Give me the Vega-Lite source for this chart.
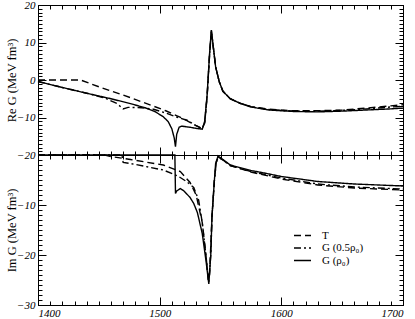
{
  "$schema": "https://vega.github.io/schema/vega-lite/v6.json",
  "background": "white",
  "padding": {"left": 4, "top": -2, "right": 0, "bottom": 0},
  "spacing": 0,
  "bounds": "flush",
  "config": {
    "view": {"stroke": "black", "strokeWidth": 1},
    "font": "Liberation Serif",
    "axis": {
      "grid": false,
      "domain": false,
      "tickColor": "black",
      "tickWidth": 1,
      "labelFont": "Liberation Serif",
      "labelFontStyle": "italic",
      "labelFontSize": 11,
      "labelColor": "black",
      "titleFont": "Liberation Serif",
      "titleFontWeight": "normal",
      "titleFontSize": 12.5,
      "titleColor": "black",
      "format": "d"
    },
    "legend": {
      "labelFont": "Liberation Serif",
      "labelFontSize": 11,
      "labelColor": "black"
    }
  },
  "resolve": {"scale": {"strokeDash": "independent"}, "legend": {"strokeDash": "independent"}},
  "datasets": {
    "re": [
      {"x": 1400, "y": 0, "s": "T"}, {"x": 1435, "y": 0, "s": "T"}, {"x": 1450, "y": -1.8, "s": "T"}, {"x": 1476, "y": -4.7, "s": "T"}, {"x": 1505, "y": -8.2, "s": "T"}, {"x": 1520, "y": -10.4, "s": "T"}, {"x": 1530, "y": -12.2, "s": "T"}, {"x": 1535, "y": -13, "s": "T"}, {"x": 1537, "y": -11.5, "s": "T"}, {"x": 1539, "y": -4.5, "s": "T"}, {"x": 1541, "y": 6.5, "s": "T"}, {"x": 1542.5, "y": 13, "s": "T"}, {"x": 1544, "y": 9, "s": "T"}, {"x": 1546, "y": 3.5, "s": "T"}, {"x": 1549, "y": -0.5, "s": "T"}, {"x": 1552, "y": -3, "s": "T"}, {"x": 1558, "y": -5, "s": "T"}, {"x": 1566, "y": -6.2, "s": "T"}, {"x": 1575, "y": -7.1, "s": "T"}, {"x": 1590, "y": -7.8, "s": "T"}, {"x": 1610, "y": -8.2, "s": "T"}, {"x": 1630, "y": -8.2, "s": "T"}, {"x": 1650, "y": -8, "s": "T"}, {"x": 1670, "y": -7.5, "s": "T"}, {"x": 1690, "y": -6.9, "s": "T"}, {"x": 1700, "y": -6.6, "s": "T"},
      {"x": 1400, "y": -0.4, "s": "G (0.5ρ₀)"}, {"x": 1420, "y": -2.0, "s": "G (0.5ρ₀)"}, {"x": 1441, "y": -3.6, "s": "G (0.5ρ₀)"}, {"x": 1455, "y": -4.8, "s": "G (0.5ρ₀)"}, {"x": 1465, "y": -6.3, "s": "G (0.5ρ₀)"}, {"x": 1470, "y": -7.7, "s": "G (0.5ρ₀)"}, {"x": 1474, "y": -7.3, "s": "G (0.5ρ₀)"}, {"x": 1485, "y": -7.4, "s": "G (0.5ρ₀)"}, {"x": 1495, "y": -7.8, "s": "G (0.5ρ₀)"}, {"x": 1505, "y": -8.8, "s": "G (0.5ρ₀)"}, {"x": 1515, "y": -10, "s": "G (0.5ρ₀)"}, {"x": 1523, "y": -10.8, "s": "G (0.5ρ₀)"}, {"x": 1530, "y": -12.2, "s": "G (0.5ρ₀)"}, {"x": 1535, "y": -13, "s": "G (0.5ρ₀)"}, {"x": 1537, "y": -11.3, "s": "G (0.5ρ₀)"}, {"x": 1539, "y": -4.3, "s": "G (0.5ρ₀)"}, {"x": 1541, "y": 6.7, "s": "G (0.5ρ₀)"}, {"x": 1542.5, "y": 13.2, "s": "G (0.5ρ₀)"}, {"x": 1544, "y": 9, "s": "G (0.5ρ₀)"}, {"x": 1546, "y": 3.5, "s": "G (0.5ρ₀)"}, {"x": 1549, "y": -0.5, "s": "G (0.5ρ₀)"}, {"x": 1552, "y": -3, "s": "G (0.5ρ₀)"}, {"x": 1558, "y": -5, "s": "G (0.5ρ₀)"}, {"x": 1566, "y": -6.2, "s": "G (0.5ρ₀)"}, {"x": 1575, "y": -7.1, "s": "G (0.5ρ₀)"}, {"x": 1590, "y": -7.9, "s": "G (0.5ρ₀)"}, {"x": 1610, "y": -8.3, "s": "G (0.5ρ₀)"}, {"x": 1630, "y": -8.3, "s": "G (0.5ρ₀)"}, {"x": 1650, "y": -8.1, "s": "G (0.5ρ₀)"}, {"x": 1670, "y": -7.7, "s": "G (0.5ρ₀)"}, {"x": 1690, "y": -7.2, "s": "G (0.5ρ₀)"}, {"x": 1700, "y": -7, "s": "G (0.5ρ₀)"},
      {"x": 1400, "y": -0.4, "s": "G (ρ₀)"}, {"x": 1420, "y": -2.0, "s": "G (ρ₀)"}, {"x": 1441, "y": -3.6, "s": "G (ρ₀)"}, {"x": 1460, "y": -5.0, "s": "G (ρ₀)"}, {"x": 1476, "y": -6.3, "s": "G (ρ₀)"}, {"x": 1488, "y": -7.4, "s": "G (ρ₀)"}, {"x": 1496, "y": -8.4, "s": "G (ρ₀)"}, {"x": 1503, "y": -9.8, "s": "G (ρ₀)"}, {"x": 1507, "y": -11.1, "s": "G (ρ₀)"}, {"x": 1510, "y": -13, "s": "G (ρ₀)"}, {"x": 1512, "y": -15.5, "s": "G (ρ₀)"}, {"x": 1513, "y": -17.8, "s": "G (ρ₀)"}, {"x": 1514, "y": -14.5, "s": "G (ρ₀)"}, {"x": 1516, "y": -12.6, "s": "G (ρ₀)"}, {"x": 1518, "y": -12.3, "s": "G (ρ₀)"}, {"x": 1525, "y": -12.6, "s": "G (ρ₀)"}, {"x": 1530, "y": -12.9, "s": "G (ρ₀)"}, {"x": 1535, "y": -13.1, "s": "G (ρ₀)"}, {"x": 1537, "y": -11, "s": "G (ρ₀)"}, {"x": 1539, "y": -4, "s": "G (ρ₀)"}, {"x": 1541, "y": 7, "s": "G (ρ₀)"}, {"x": 1542.5, "y": 13.3, "s": "G (ρ₀)"}, {"x": 1544, "y": 9, "s": "G (ρ₀)"}, {"x": 1546, "y": 3.5, "s": "G (ρ₀)"}, {"x": 1549, "y": -0.5, "s": "G (ρ₀)"}, {"x": 1552, "y": -3, "s": "G (ρ₀)"}, {"x": 1558, "y": -5, "s": "G (ρ₀)"}, {"x": 1566, "y": -6.2, "s": "G (ρ₀)"}, {"x": 1575, "y": -7.2, "s": "G (ρ₀)"}, {"x": 1590, "y": -8, "s": "G (ρ₀)"}, {"x": 1610, "y": -8.4, "s": "G (ρ₀)"}, {"x": 1630, "y": -8.5, "s": "G (ρ₀)"}, {"x": 1650, "y": -8.3, "s": "G (ρ₀)"}, {"x": 1670, "y": -8, "s": "G (ρ₀)"}, {"x": 1690, "y": -7.7, "s": "G (ρ₀)"}, {"x": 1700, "y": -7.5, "s": "G (ρ₀)"}
    ],
    "im": [
      {"x": 1400, "y": 0, "s": "T"}, {"x": 1455, "y": 0, "s": "T"}, {"x": 1460, "y": -0.3, "s": "T"}, {"x": 1476, "y": -0.9, "s": "T"}, {"x": 1503, "y": -2, "s": "T"}, {"x": 1517, "y": -3.3, "s": "T"}, {"x": 1525, "y": -5.5, "s": "T"}, {"x": 1530, "y": -8, "s": "T"}, {"x": 1535, "y": -13.5, "s": "T"}, {"x": 1538, "y": -20, "s": "T"}, {"x": 1540, "y": -25, "s": "T"}, {"x": 1541, "y": -24, "s": "T"}, {"x": 1543, "y": -12.3, "s": "T"}, {"x": 1545, "y": -5, "s": "T"}, {"x": 1546.5, "y": -1.5, "s": "T"}, {"x": 1548, "y": -0.5, "s": "T"}, {"x": 1552, "y": -1, "s": "T"}, {"x": 1558, "y": -2.1, "s": "T"}, {"x": 1575, "y": -3.4, "s": "T"}, {"x": 1600, "y": -4.8, "s": "T"}, {"x": 1630, "y": -6, "s": "T"}, {"x": 1660, "y": -6.6, "s": "T"}, {"x": 1700, "y": -7, "s": "T"},
      {"x": 1400, "y": 0, "s": "G (0.5ρ₀)"}, {"x": 1469, "y": 0, "s": "G (0.5ρ₀)"}, {"x": 1470, "y": -1.5, "s": "G (0.5ρ₀)"}, {"x": 1476, "y": -1.7, "s": "G (0.5ρ₀)"}, {"x": 1503, "y": -3, "s": "G (0.5ρ₀)"}, {"x": 1515, "y": -4.2, "s": "G (0.5ρ₀)"}, {"x": 1522, "y": -5.3, "s": "G (0.5ρ₀)"}, {"x": 1528, "y": -6.5, "s": "G (0.5ρ₀)"}, {"x": 1532, "y": -9, "s": "G (0.5ρ₀)"}, {"x": 1535, "y": -13.5, "s": "G (0.5ρ₀)"}, {"x": 1538, "y": -20, "s": "G (0.5ρ₀)"}, {"x": 1540.3, "y": -25.5, "s": "G (0.5ρ₀)"}, {"x": 1542, "y": -20, "s": "G (0.5ρ₀)"}, {"x": 1543, "y": -12.3, "s": "G (0.5ρ₀)"}, {"x": 1545, "y": -5, "s": "G (0.5ρ₀)"}, {"x": 1546.5, "y": -1.5, "s": "G (0.5ρ₀)"}, {"x": 1548, "y": -0.4, "s": "G (0.5ρ₀)"}, {"x": 1552, "y": -1, "s": "G (0.5ρ₀)"}, {"x": 1558, "y": -2.1, "s": "G (0.5ρ₀)"}, {"x": 1575, "y": -3.3, "s": "G (0.5ρ₀)"}, {"x": 1600, "y": -4.6, "s": "G (0.5ρ₀)"}, {"x": 1630, "y": -5.8, "s": "G (0.5ρ₀)"}, {"x": 1660, "y": -6.4, "s": "G (0.5ρ₀)"}, {"x": 1700, "y": -6.8, "s": "G (0.5ρ₀)"},
      {"x": 1400, "y": 0, "s": "G (ρ₀)"}, {"x": 1512.5, "y": 0, "s": "G (ρ₀)"}, {"x": 1513, "y": -7.7, "s": "G (ρ₀)"}, {"x": 1514, "y": -7.2, "s": "G (ρ₀)"}, {"x": 1517, "y": -6.7, "s": "G (ρ₀)"}, {"x": 1520, "y": -7.2, "s": "G (ρ₀)"}, {"x": 1525, "y": -8.5, "s": "G (ρ₀)"}, {"x": 1528, "y": -9.7, "s": "G (ρ₀)"}, {"x": 1531, "y": -11.5, "s": "G (ρ₀)"}, {"x": 1535, "y": -15.7, "s": "G (ρ₀)"}, {"x": 1538, "y": -21, "s": "G (ρ₀)"}, {"x": 1540.4, "y": -25.8, "s": "G (ρ₀)"}, {"x": 1542, "y": -20, "s": "G (ρ₀)"}, {"x": 1543, "y": -12.3, "s": "G (ρ₀)"}, {"x": 1545, "y": -5, "s": "G (ρ₀)"}, {"x": 1546, "y": -1.7, "s": "G (ρ₀)"}, {"x": 1548, "y": -0.2, "s": "G (ρ₀)"}, {"x": 1552, "y": -0.9, "s": "G (ρ₀)"}, {"x": 1558, "y": -2, "s": "G (ρ₀)"}, {"x": 1575, "y": -3.1, "s": "G (ρ₀)"}, {"x": 1586, "y": -3.6, "s": "G (ρ₀)"}, {"x": 1600, "y": -4.3, "s": "G (ρ₀)"}, {"x": 1630, "y": -5.3, "s": "G (ρ₀)"}, {"x": 1660, "y": -5.8, "s": "G (ρ₀)"}, {"x": 1700, "y": -6.2, "s": "G (ρ₀)"}
    ]
  },
  "vconcat": [
    {
      "width": 365,
      "height": 150,
      "resolve": {"scale": {"x": "independent", "y": "independent"}},
      "layer": [
        {
          "data": {"name": "re"},
          "mark": {"type": "line", "color": "black", "strokeWidth": 1.4},
          "encoding": {
            "x": {"field": "x", "type": "quantitative", "scale": {"domain": [1400, 1700], "nice": false, "zero": false},
              "axis": {"orient": "bottom", "values": [1400, 1500, 1600, 1700], "tickSize": -8, "labels": false, "title": null, "minExtent": 0, "maxExtent": 0}},
            "y": {"field": "y", "type": "quantitative", "scale": {"domain": [-20, 20], "nice": false, "zero": false},
              "axis": {"orient": "left", "values": [-20, -10, 0, 10, 20], "tickSize": -8, "labelPadding": 11, "title": "Re G (MeV fm³)", "titlePadding": 2, "minExtent": 18, "maxExtent": 18}},
            "strokeDash": {"field": "s", "type": "nominal", "sort": ["T", "G (0.5ρ₀)", "G (ρ₀)"],
              "scale": {"domain": ["T", "G (0.5ρ₀)", "G (ρ₀)"], "range": [[7, 4], [7, 3, 2, 3], [1, 0]]}, "legend": null}
          }
        },
        {
          "data": {"name": "re"},
          "mark": {"type": "point", "opacity": 0},
          "encoding": {
            "x": {"field": "x", "type": "quantitative", "scale": {"domain": [1400, 1700], "nice": false, "zero": false},
              "axis": {"orient": "bottom", "values": [1400,1410,1420,1430,1440,1450,1460,1470,1480,1490,1500,1510,1520,1530,1540,1550,1560,1570,1580,1590,1600,1610,1620,1630,1640,1650,1660,1670,1680,1690,1700], "tickSize": -4, "labels": false, "title": null, "minExtent": 0, "maxExtent": 0}},
            "y": {"field": "y", "type": "quantitative", "scale": {"domain": [-20, 20], "nice": false, "zero": false},
              "axis": {"orient": "left", "values": [-20,-19,-18,-17,-16,-15,-14,-13,-12,-11,-10,-9,-8,-7,-6,-5,-4,-3,-2,-1,0,1,2,3,4,5,6,7,8,9,10,11,12,13,14,15,16,17,18,19,20], "tickSize": -4, "labels": false, "title": null, "minExtent": 0, "maxExtent": 0}}
          }
        },
        {
          "data": {"name": "re"},
          "mark": {"type": "point", "opacity": 0},
          "encoding": {
            "x": {"field": "x", "type": "quantitative", "scale": {"domain": [1400, 1700], "nice": false, "zero": false},
              "axis": {"orient": "top", "values": [1400, 1500, 1600, 1700], "tickSize": -8, "labels": false, "title": null, "minExtent": 0, "maxExtent": 0}},
            "y": {"field": "y", "type": "quantitative", "scale": {"domain": [-20, 20], "nice": false, "zero": false},
              "axis": {"orient": "right", "values": [-20, -10, 0, 10, 20], "tickSize": -8, "labels": false, "title": null, "minExtent": 0, "maxExtent": 0}}
          }
        },
        {
          "data": {"name": "re"},
          "mark": {"type": "point", "opacity": 0},
          "encoding": {
            "x": {"field": "x", "type": "quantitative", "scale": {"domain": [1400, 1700], "nice": false, "zero": false},
              "axis": {"orient": "top", "values": [1400,1410,1420,1430,1440,1450,1460,1470,1480,1490,1500,1510,1520,1530,1540,1550,1560,1570,1580,1590,1600,1610,1620,1630,1640,1650,1660,1670,1680,1690,1700], "tickSize": -4, "labels": false, "title": null, "minExtent": 0, "maxExtent": 0}},
            "y": {"field": "y", "type": "quantitative", "scale": {"domain": [-20, 20], "nice": false, "zero": false},
              "axis": {"orient": "right", "values": [-20,-19,-18,-17,-16,-15,-14,-13,-12,-11,-10,-9,-8,-7,-6,-5,-4,-3,-2,-1,0,1,2,3,4,5,6,7,8,9,10,11,12,13,14,15,16,17,18,19,20], "tickSize": -4, "labels": false, "title": null, "minExtent": 0, "maxExtent": 0}}
          }
        }
      ]
    },
    {
      "width": 365,
      "height": 150,
      "resolve": {"scale": {"x": "independent", "y": "independent"}},
      "layer": [
        {
          "data": {"name": "im"},
          "mark": {"type": "line", "color": "black", "strokeWidth": 1.4},
          "encoding": {
            "x": {"field": "x", "type": "quantitative", "scale": {"domain": [1400, 1700], "nice": false, "zero": false},
              "axis": {"orient": "bottom", "values": [1400, 1500, 1600, 1700], "tickSize": -8, "labelPadding": 10, "title": null}},
            "y": {"field": "y", "type": "quantitative", "scale": {"domain": [-30, 0], "nice": false, "zero": false},
              "axis": {"orient": "left", "values": [-30, -20, -10], "tickSize": -8, "labelPadding": 11, "title": "Im G (MeV fm³)", "titlePadding": 2, "minExtent": 18, "maxExtent": 18}},
            "strokeDash": {"field": "s", "type": "nominal", "sort": ["T", "G (0.5ρ₀)", "G (ρ₀)"],
              "scale": {"domain": ["T", "G (0.5ρ₀)", "G (ρ₀)"], "range": [[7, 4], [7, 3, 2, 3], [1, 0]]},
              "legend": {"orient": "none", "legendX": 255, "legendY": 75, "title": null, "symbolType": "stroke", "symbolStrokeColor": "black", "symbolStrokeWidth": 1.4, "symbolSize": 289, "clipHeight": 11, "rowPadding": 0.5, "labelOffset": 10, "padding": 0}}
          }
        },
        {
          "data": {"name": "im"},
          "mark": {"type": "point", "opacity": 0},
          "encoding": {
            "x": {"field": "x", "type": "quantitative", "scale": {"domain": [1400, 1700], "nice": false, "zero": false},
              "axis": {"orient": "bottom", "values": [1400,1410,1420,1430,1440,1450,1460,1470,1480,1490,1500,1510,1520,1530,1540,1550,1560,1570,1580,1590,1600,1610,1620,1630,1640,1650,1660,1670,1680,1690,1700], "tickSize": -4, "labels": false, "title": null, "minExtent": 0, "maxExtent": 0}},
            "y": {"field": "y", "type": "quantitative", "scale": {"domain": [-30, 0], "nice": false, "zero": false},
              "axis": {"orient": "left", "values": [-30,-29,-28,-27,-26,-25,-24,-23,-22,-21,-20,-19,-18,-17,-16,-15,-14,-13,-12,-11,-10,-9,-8,-7,-6,-5,-4,-3,-2,-1,0], "tickSize": -4, "labels": false, "title": null, "minExtent": 0, "maxExtent": 0}}
          }
        },
        {
          "data": {"name": "im"},
          "mark": {"type": "point", "opacity": 0},
          "encoding": {
            "x": {"field": "x", "type": "quantitative", "scale": {"domain": [1400, 1700], "nice": false, "zero": false},
              "axis": {"orient": "top", "values": [1400, 1500, 1600, 1700], "tickSize": -8, "labels": false, "title": null, "minExtent": 0, "maxExtent": 0}},
            "y": {"field": "y", "type": "quantitative", "scale": {"domain": [-30, 0], "nice": false, "zero": false},
              "axis": {"orient": "right", "values": [-30, -20, -10, 0], "tickSize": -8, "labels": false, "title": null, "minExtent": 0, "maxExtent": 0}}
          }
        },
        {
          "data": {"name": "im"},
          "mark": {"type": "point", "opacity": 0},
          "encoding": {
            "x": {"field": "x", "type": "quantitative", "scale": {"domain": [1400, 1700], "nice": false, "zero": false},
              "axis": {"orient": "top", "values": [1400,1410,1420,1430,1440,1450,1460,1470,1480,1490,1500,1510,1520,1530,1540,1550,1560,1570,1580,1590,1600,1610,1620,1630,1640,1650,1660,1670,1680,1690,1700], "tickSize": -4, "labels": false, "title": null, "minExtent": 0, "maxExtent": 0}},
            "y": {"field": "y", "type": "quantitative", "scale": {"domain": [-30, 0], "nice": false, "zero": false},
              "axis": {"orient": "right", "values": [-30,-29,-28,-27,-26,-25,-24,-23,-22,-21,-20,-19,-18,-17,-16,-15,-14,-13,-12,-11,-10,-9,-8,-7,-6,-5,-4,-3,-2,-1,0], "tickSize": -4, "labels": false, "title": null, "minExtent": 0, "maxExtent": 0}}
          }
        }
      ]
    }
  ]
}
